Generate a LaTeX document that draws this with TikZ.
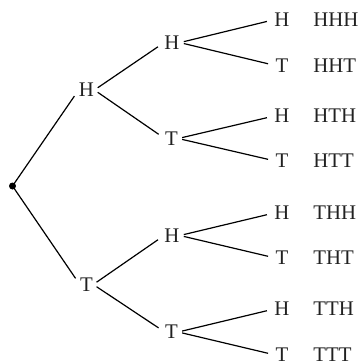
\documentclass[tikz,border=0pt]{standalone}
\usepackage{fontspec}
\setmainfont{Liberation Serif}
\begin{document}
\begin{tikzpicture}[x=0.5pt,y=-0.5pt,
  lbl/.style={inner sep=0pt, text=black!87, font=\fontsize{10.4}{12}\selectfont},
  outc/.style={lbl, anchor=west},
  br/.style={line width=0.6pt, shorten <=2pt, shorten >=3.7pt}]
\useasboundingbox (0,0) rectangle (360,364);
\coordinate (r) at (12.5,186);
\fill (r) circle (1.75pt);
% level 1
\node[lbl] (H) at (86.5,90) {H};
\node[lbl] (T) at (86.5,284.5) {T};
% level 2
\node[lbl] (HH) at (172,42.6) {H};
\node[lbl] (HT) at (171.5,138.5) {T};
\node[lbl] (TH) at (172,235.5) {H};
\node[lbl] (TT) at (171.5,332) {T};
% level 3
\node[lbl] (l1) at (282,19.7) {H};
\node[lbl] (l2) at (282,65.5) {T};
\node[lbl] (l3) at (282,116) {H};
\node[lbl] (l4) at (282,161) {T};
\node[lbl] (l5) at (282,213) {H};
\node[lbl] (l6) at (282,258) {T};
\node[lbl] (l7) at (282,309) {H};
\node[lbl] (l8) at (282,355) {T};
% outcomes
\node[outc] (o1) at (313,19.7) {HHH};
\node[outc] (o2) at (313,65.5) {HHT};
\node[outc] (o3) at (313,116) {HTH};
\node[outc] (o4) at (313,161) {HTT};
\node[outc] (o5) at (313,213) {THH};
\node[outc] (o6) at (313,258) {THT};
\node[outc] (o7) at (313,309) {TTH};
\node[outc] (o8) at (313,355) {TTT};
% branches
\draw[br, shorten <=0pt] (r) -- (H.west);
\draw[br, shorten <=0pt] (r) -- (T.west);
\draw[br] (H.east) -- (HH.west);
\draw[br] (H.east) -- (HT.west);
\draw[br] (T.east) -- (TH.west);
\draw[br] (T.east) -- (TT.west);
\draw[br] (HH.east) -- (l1.west);
\draw[br] (HH.east) -- (l2.west);
\draw[br] (HT.east) -- (l3.west);
\draw[br] (HT.east) -- (l4.west);
\draw[br] (TH.east) -- (l5.west);
\draw[br] (TH.east) -- (l6.west);
\draw[br] (TT.east) -- (l7.west);
\draw[br] (TT.east) -- (l8.west);
\end{tikzpicture}
\end{document}
